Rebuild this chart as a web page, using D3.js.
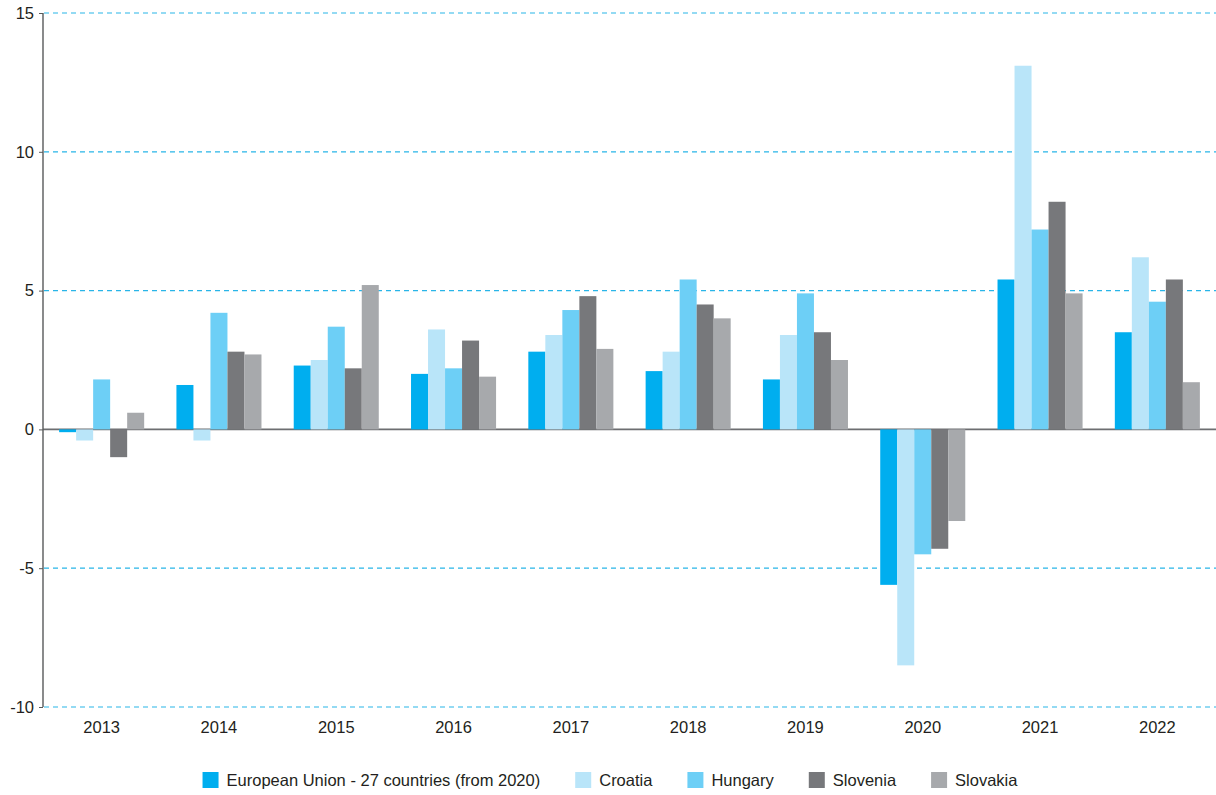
<!DOCTYPE html>
<html lang="en">
<head>
<meta charset="UTF-8">
<title>Annual growth</title>
<script src="https://d3js.org/d3.v7.min.js"></script>
<style>
  body { margin: 0; background: #fff; }
  text { font-family: "Liberation Sans", Arial, sans-serif; fill: #231f20; }
</style>
</head>
<body>
<div id="chart"></div>
<script>
// data
const years = ["2013","2014","2015","2016","2017","2018","2019","2020","2021","2022"];
const seriesNames = ["European Union - 27 countries (from 2020)", "Croatia", "Hungary", "Slovenia", "Slovakia"];
const colors = ["#00aeef", "#b9e5f9", "#6dcff6", "#77787b", "#a7a9ac"];
const euValues       = [-0.1, 1.6, 2.3, 2.0, 2.8, 2.1, 1.8, -5.6, 5.4, 3.5];
const croatiaValues  = [-0.4, -0.4, 2.5, 3.6, 3.4, 2.8, 3.4, -8.5, 13.1, 6.2];
const hungaryValues  = [1.8, 4.2, 3.7, 2.2, 4.3, 5.4, 4.9, -4.5, 7.2, 4.6];
const sloveniaValues = [-1.0, 2.8, 2.2, 3.2, 4.8, 4.5, 3.5, -4.3, 8.2, 5.4];
const slovakiaValues = [0.6, 2.7, 5.2, 1.9, 2.9, 4.0, 2.5, -3.3, 4.9, 1.7];
const yTicks = [-10, -5, 0, 5, 10, 15];

const allValues = [euValues, croatiaValues, hungaryValues, sloveniaValues, slovakiaValues];
const rows = years.map((yr, i) => ({
    year: yr,
    vals: seriesNames.map((s, j) => ({ key: s, idx: j, value: allValues[j][i] }))
}));

const W = 1216, H = 795;
const mLeft = 43, mRight = 1216, mTop = 13, mBottom = 707;
const fontSize = "16.5px";

const svg = d3.select("#chart").append("svg")
    .attr("width", W).attr("height", H);

const y = d3.scaleLinear().domain([-10, 15]).range([mBottom, mTop]);
const x0 = d3.scaleBand().domain(years).range([mLeft, mRight])
    .paddingInner(0.275).paddingOuter(0.1375);
const x1 = d3.scaleBand().domain(d3.range(seriesNames.length)).range([0, x0.bandwidth()]);

// dashed grid lines
svg.append("g").selectAll("line")
    .data(yTicks.filter(d => d !== 0))
    .enter().append("line")
    .attr("x1", mLeft + 1).attr("x2", mRight)
    .attr("y1", d => y(d)).attr("y2", d => y(d))
    .attr("stroke", "#29b5e8")
    .attr("stroke-width", 1.2)
    .attr("stroke-dasharray", "5,4");

// zero line
svg.append("line")
    .attr("x1", mLeft).attr("x2", mRight)
    .attr("y1", y(0)).attr("y2", y(0))
    .attr("stroke", "#6d6e71").attr("stroke-width", 1.6);

// bars
svg.append("g").selectAll("g")
    .data(rows)
    .enter().append("g")
    .attr("transform", d => "translate(" + x0(d.year) + ",0)")
    .selectAll("rect")
    .data(d => d.vals)
    .enter().append("rect")
    .attr("x", d => x1(d.idx))
    .attr("width", x1.bandwidth())
    .attr("y", d => y(Math.max(0, d.value)))
    .attr("height", d => Math.abs(y(d.value) - y(0)))
    .attr("fill", d => colors[d.idx]);

// y axis (plain hyphen for negatives, like the source)
const yAxis = svg.append("g")
    .attr("transform", "translate(" + mLeft + ",0)")
    .call(d3.axisLeft(y).tickValues(yTicks).tickFormat(d => String(d)).tickSize(4).tickPadding(5));
yAxis.select(".domain").attr("stroke", "#58595b").attr("stroke-width", 1.4)
    .attr("d", "M0," + mTop + "V" + mBottom);
yAxis.selectAll(".tick line").attr("stroke", "#58595b");
yAxis.selectAll(".tick text").style("font-size", fontSize).style("font-family", "Liberation Sans, Arial, sans-serif").attr("fill", "#231f20");

// x labels
svg.append("g").selectAll("text")
    .data(years)
    .enter().append("text")
    .attr("x", d => x0(d) + x0.bandwidth() / 2)
    .attr("y", 733)
    .attr("text-anchor", "middle")
    .style("font-size", fontSize)
    .text(d => d);

// legend
const legend = svg.append("g");
const items = legend.selectAll("g")
    .data(seriesNames)
    .enter().append("g");
items.append("rect")
    .attr("width", 16).attr("height", 16)
    .attr("y", 772)
    .attr("fill", (d, i) => colors[i]);
items.append("text")
    .attr("x", 24).attr("y", 786)
    .style("font-size", fontSize)
    .text(d => d);
const widths = [];
items.each(function() {
    widths.push(24 + this.querySelector("text").getComputedTextLength());
});
const gap = 35;
const total = d3.sum(widths) + gap * (widths.length - 1);
let pos = 610 - total / 2;
items.attr("transform", (d, i) => {
    const t = "translate(" + pos + ",0)";
    pos += widths[i] + gap;
    return t;
});
</script>
</body>
</html>
